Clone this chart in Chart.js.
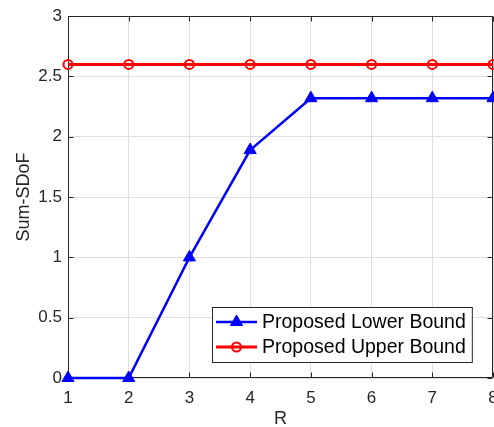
<!DOCTYPE html>
<html>
<head>
<meta charset="utf-8">
<script src="https://cdn.jsdelivr.net/npm/chart.js@4.4.1/dist/chart.umd.min.js"></script>
<style>
html,body{margin:0;padding:0;background:#fff;overflow:hidden;width:494px;height:427px;}
#wrap{position:absolute;left:0;top:0;width:560px;height:427px;}
canvas{display:block;}
</style>
</head>
<body>
<div id="wrap"><canvas id="c" width="560" height="427"></canvas></div>
<script>
// ---- data ----
const categories = [1, 2, 3, 4, 5, 6, 7, 8];
const lowerBound = [0, 0, 1, 1.89, 2.32, 2.32, 2.32, 2.32];
const upperBound = [2.6, 2.6, 2.6, 2.6, 2.6, 2.6, 2.6, 2.6];
const seriesNames = ['Proposed Lower Bound', 'Proposed Upper Bound'];
const xTickValues = [1, 2, 3, 4, 5, 6, 7, 8];
const yTickValues = [0, 0.5, 1, 1.5, 2, 2.5, 3];
const xTitle = 'R';
const yTitle = 'Sum-SDoF';

const FONT = '"Liberation Sans", Arial, Helvetica, sans-serif';
const AXIS = '#262626';
const GRID = '#dfdfdf';

const boxPlugin = {
  id: 'matlabBox',
  beforeDatasetsDraw(chart) {
    const {ctx, chartArea: a, scales: {x, y}} = chart;
    ctx.save();
    ctx.strokeStyle = AXIS;
    ctx.lineWidth = 1;
    const L = Math.round(a.left) + 0.5, R = Math.round(a.right) - 0.5;
    const T = Math.round(a.top) + 0.5, B = Math.round(a.bottom) - 0.5;
    ctx.beginPath();
    ctx.moveTo(L, T); ctx.lineTo(R, T); ctx.lineTo(R, B); ctx.lineTo(L, B); ctx.closePath();
    const tl = 5;
    xTickValues.forEach(v => {
      const px = Math.round(x.getPixelForValue(v)) + 0.5;
      ctx.moveTo(px, B); ctx.lineTo(px, B - tl);
      ctx.moveTo(px, T); ctx.lineTo(px, T + tl);
    });
    yTickValues.forEach(v => {
      const py = Math.round(y.getPixelForValue(v)) + 0.5;
      ctx.moveTo(L, py); ctx.lineTo(L + tl, py);
      ctx.moveTo(R, py); ctx.lineTo(R - tl, py);
    });
    ctx.stroke();
    ctx.restore();
  },
  afterDraw(chart) {
    const {ctx} = chart;
    ctx.save();
    ctx.font = '19.5px ' + FONT;
    const tw = Math.max(...seriesNames.map(s => ctx.measureText(s).width));
    const bx = 212, by = 307;
    const bw = 4 + 41 + 5 + tw + 6, bh = 55;
    ctx.fillStyle = '#fff';
    ctx.fillRect(bx, by, bw, bh);
    ctx.strokeStyle = AXIS;
    ctx.lineWidth = 1;
    ctx.strokeRect(bx + 0.5, by + 0.5, bw, bh);
    chart.data.datasets.forEach((ds, i) => {
      const cy = by + 15 + i * 25;
      const x0 = bx + 4, x1 = bx + 45;
      ctx.strokeStyle = ds.borderColor;
      ctx.lineWidth = ds.borderWidth;
      ctx.beginPath(); ctx.moveTo(x0, cy); ctx.lineTo(x1, cy); ctx.stroke();
      ctx.fillStyle = ds.pointBackgroundColor;
      ctx.strokeStyle = ds.pointBorderColor;
      ctx.lineWidth = ds.pointBorderWidth;
      Chart.helpers.drawPoint(ctx, {
        pointStyle: ds.pointStyle, radius: ds.pointRadius, borderWidth: ds.pointBorderWidth, rotation: 0
      }, (x0 + x1) / 2, cy);
      ctx.fillStyle = '#000';
      ctx.textBaseline = 'middle';
      ctx.textAlign = 'left';
      ctx.fillText(ds.label, bx + 50, cy + 1);
    });
    ctx.restore();
  }
};

const ctx = document.getElementById('c').getContext('2d');
new Chart(ctx, {
  type: 'line',
  data: {
    datasets: [
      {
        label: seriesNames[0],
        data: categories.map((c, i) => ({x: c, y: lowerBound[i]})),
        borderColor: '#0000ff',
        backgroundColor: '#0000ff',
        borderWidth: 2.5,
        pointStyle: 'triangle',
        pointRadius: 7,
        pointBackgroundColor: '#0000ff',
        pointBorderColor: '#0000ff',
        pointBorderWidth: 1,
        clip: false,
        tension: 0
      },
      {
        label: seriesNames[1],
        data: categories.map((c, i) => ({x: c, y: upperBound[i]})),
        borderColor: '#ff0000',
        backgroundColor: '#ff0000',
        borderWidth: 3,
        pointStyle: 'circle',
        pointRadius: 4.5,
        pointBackgroundColor: 'rgba(0,0,0,0)',
        pointBorderColor: '#ff0000',
        pointBorderWidth: 2,
        clip: false,
        tension: 0
      }
    ]
  },
  options: {
    responsive: false,
    animation: false,
    events: [],
    layout: {padding: {left: 0, top: 14, right: 67, bottom: 0}},
    plugins: {legend: {display: false}, tooltip: {enabled: false}},
    scales: {
      x: {
        type: 'linear', min: 1, max: 8,
        afterBuildTicks: s => { s.ticks = xTickValues.map(v => ({value: v})); },
        afterFit: s => { s.height = 49; },
        grid: {color: GRID, lineWidth: 1, drawTicks: false},
        border: {display: false},
        ticks: {color: '#262626', font: {family: FONT, size: 17}, padding: 10, maxRotation: 0, autoSkip: false,
                callback: v => String(v)},
        title: {display: true, text: xTitle, color: '#262626', font: {family: FONT, size: 18, lineHeight: 0.85}, padding: {top: 0, bottom: 0}}
      },
      y: {
        type: 'linear', min: 0, max: 3,
        afterBuildTicks: s => { s.ticks = yTickValues.map(v => ({value: v})); },
        afterFit: s => { s.width = 68; },
        grid: {color: GRID, lineWidth: 1, drawTicks: false},
        border: {display: false},
        ticks: {color: '#262626', font: {family: FONT, size: 17}, padding: 6,
                callback: v => String(v)},
        title: {display: true, text: yTitle, color: '#262626', font: {family: FONT, size: 18, lineHeight: 1.2}, padding: {top: 13, bottom: 0}}
      }
    }
  },
  plugins: [boxPlugin]
});
</script>
</body>
</html>
